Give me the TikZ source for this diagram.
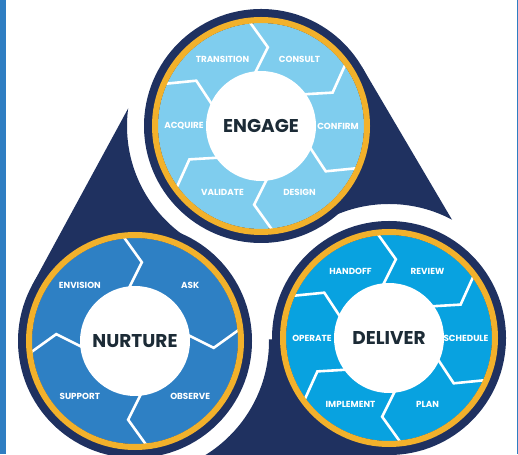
\documentclass[tikz,border=0pt]{standalone}
\usepackage{fontspec}
\setsansfont{Poppins}
\usetikzlibrary{calc}

\definecolor{navy}{HTML}{1F3160}
\definecolor{gold}{HTML}{F2B12B}
\definecolor{engagefill}{HTML}{7FCDEE}
\definecolor{nurturefill}{HTML}{2E80C4}
\definecolor{deliverfill}{HTML}{08A2E0}
\definecolor{stripe}{HTML}{2F7EC2}
\definecolor{hubtext}{HTML}{1C2B36}

\begin{document}
\begin{tikzpicture}[x=1pt,y=1pt,
  hub/.style={circle,fill=white,minimum size=110pt,inner sep=0pt,text=hubtext,
    font=\sffamily\bfseries\fontsize{18.5}{18.5}\selectfont},
  step label/.style={text=white,inner sep=0pt,font=\sffamily\bfseries\fontsize{8.8}{9}\selectfont},
  chevron/.style={white,line width=2.6pt}]

  \useasboundingbox (0,0) rectangle (518,454);
  \fill[stripe] (0,0) rectangle (6,454);
  \fill[stripe] (517,0) rectangle (518,454);

  \pgfmathsetmacro\R{117}
  \pgfmathsetmacro\H{134}

  \coordinate (E) at (261,328);
  \coordinate (N) at (135,113);
  \coordinate (D) at (389,116);

  % tails, each cut by the halo of the next circle
  \foreach \own/\nb/\ang in {N/E/151.5, E/D/30.5, D/N/-89.5}
  {\begin{scope}[even odd rule]
    \clip (-20,-20) -- (-20,480) -- (540,480) -- (540,-20) -- cycle (\nb) circle (\H);
    \fill[navy] ($(\own)+(\ang:\R)+(\ang-90:250)$) -- ($(\own)+(\ang:\R)$) -- (\own) -- (\nb) -- cycle;
  \end{scope}}

  \foreach \c/\col in {E/engagefill, N/nurturefill, D/deliverfill}
  {\fill[navy] (\c) circle (\R);
   \fill[\col] (\c) circle (103);}

  % chevron boundaries
  \foreach \c in {E,D}
  {\foreach \a in {36,96,...,336}
    {\draw[chevron] ($(\c)+(\a:104)$) -- ($(\c)+(\a-11:79)$) -- ($(\c)+(\a:54)$);}}
  \foreach \a in {6,96,186,276}
    {\draw[chevron] ($(N)+(\a:104)$) -- ($(N)+(\a-11:79)$) -- ($(N)+(\a:54)$);}

  \foreach \c in {E,N,D}
    {\draw[gold,line width=6pt] (\c) circle (106);}

  \node[hub] (engage) at (E) {ENGAGE};
  \node[hub] (nurture) at (N) {NURTURE};
  \node[hub] (deliver) at (D) {DELIVER};

  \foreach \a/\t in {0/CONFIRM, 60/CONSULT, 120/TRANSITION, 180/ACQUIRE, 240/VALIDATE, 300/DESIGN}
    {\node[step label] at ($(engage)+(\a:77)$) {\t};}
  \foreach \a/\t in {45/ASK, 135/ENVISION, 225/SUPPORT, 315/OBSERVE}
    {\node[step label] at ($(nurture)+(\a:78)$) {\t};}
  \foreach \a/\t in {0/SCHEDULE, 60/REVIEW, 120/HANDOFF, 180/OPERATE, 240/IMPLEMENT, 300/PLAN}
    {\node[step label] at ($(deliver)+(\a:77)$) {\t};}

\end{tikzpicture}
\end{document}
